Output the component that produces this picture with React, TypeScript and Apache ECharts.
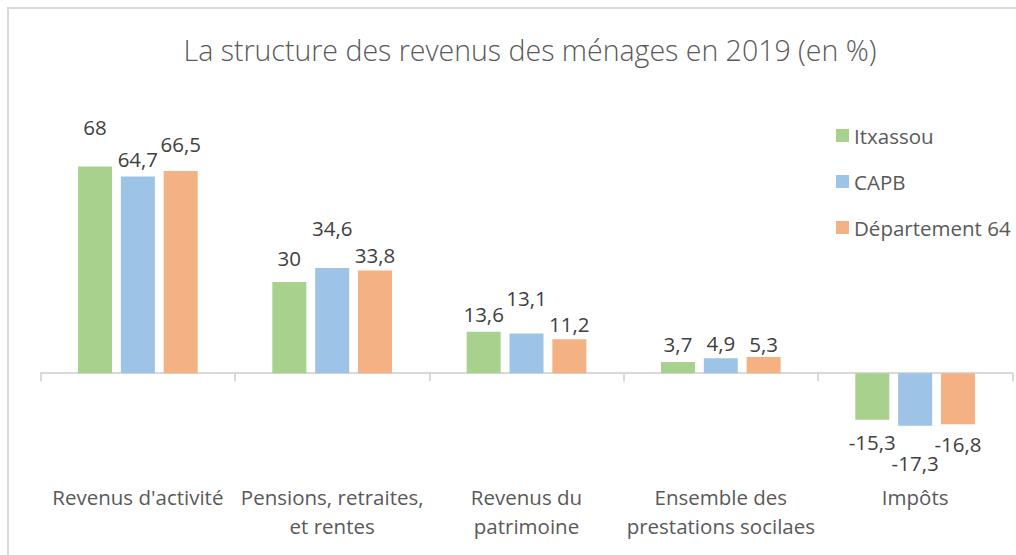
import React, { useEffect, useRef } from "react";
import * as echarts from "echarts";

const title = "La structure des revenus des ménages en 2019 (en %)";
const categories = [
  "Revenus d'activité",
  "Pensions, retraites,\net rentes",
  "Revenus du\npatrimoine",
  "Ensemble des\nprestations socilaes",
  "Impôts",
];
const seriesNames = ["Itxassou", "CAPB", "Département 64"];
const itxassou = [68, 30, 13.6, 3.7, -15.3];
const capb = [64.7, 34.6, 13.1, 4.9, -17.3];
const departement64 = [66.5, 33.8, 11.2, 5.3, -16.8];
const seriesValues = [itxassou, capb, departement64];

// label centre offsets from bar end (px), mimicking Excel's placed labels
const labelOffsets = [
  [39, 24, 18, 18, 22],
  [18, 40, 35, 15, 37],
  [27, 15, 15, 13, 20],
];
const colors = ["#A9D18E", "#9DC3E6", "#F4B183"];
const FONT = "'Open Sans', 'Noto Sans', sans-serif";
const FS = 20.5;

export default function App() {
  const ref = useRef<HTMLDivElement>(null);
  useEffect(() => {
    if (!ref.current) return;
    const chart = echarts.init(ref.current, null, { renderer: "svg" });
    chart.setOption({
      animation: false,
      backgroundColor: "#ffffff",
      textStyle: { fontFamily: FONT },
      title: {
        text: title,
        left: 525,
        top: 30,
        textAlign: "center",
        textStyle: { fontFamily: FONT, fontSize: 28.5, fontWeight: 300, color: "#595959" },
      },
      legend: {
        orient: "vertical",
        left: 831,
        top: 120,
        itemWidth: 13,
        itemHeight: 13,
        itemGap: 25,
        icon: "rect",
        data: seriesNames,
        textStyle: { fontFamily: FONT, fontSize: FS, color: "#595959", lineHeight: 20 },
      },
      grid: { left: 40.7, right: 3.7, top: 130, bottom: 121, outerBoundsMode: "none", containLabel: false },
      xAxis: {
        type: "category",
        data: categories,
        axisLine: { onZero: true, lineStyle: { color: "#d9d9d9", width: 2 } },
        axisTick: { show: true, length: 8, lineStyle: { color: "#d9d9d9", width: 2 } },
        axisLabel: {
          margin: 48,
          fontFamily: FONT,
          fontSize: FS,
          lineHeight: 29,
          color: "#595959",
          interval: 0,
        },
      },
      yAxis: {
        type: "value",
        min: -20,
        max: 80,
        interval: 20,
        show: false,
        splitLine: { show: false },
      },
      series: seriesNames.map((name, si) => ({
        name,
        type: "bar",
        barWidth: 34,
        barGap: "26%",
        itemStyle: { color: colors[si] },
        label: {
          show: true,
          position: "outside",
          fontFamily: FONT,
          fontSize: FS,
          lineHeight: 20,
          color: "#404040",
          formatter: (p: any) => String(p.value).replace(".", ","),
        },
        data: seriesValues[si].map((v, i) => ({
          value: v,
          label: { distance: labelOffsets[si][i] - 10 },
        })),
      })),
      graphic: [
        { type: "line", shape: { x1: 7, y1: 8, x2: 1016, y2: 8 }, style: { stroke: "#d9d9d9", lineWidth: 2 } },
        { type: "line", shape: { x1: 8, y1: 8, x2: 8, y2: 555 }, style: { stroke: "#d9d9d9", lineWidth: 2 } },
      ],
    });
    return () => chart.dispose();
  }, []);
  return (
    <div
      ref={ref}
      style={{ position: "absolute", left: 0, top: 0, width: 1016, height: 555 }}
    />
  );
}
